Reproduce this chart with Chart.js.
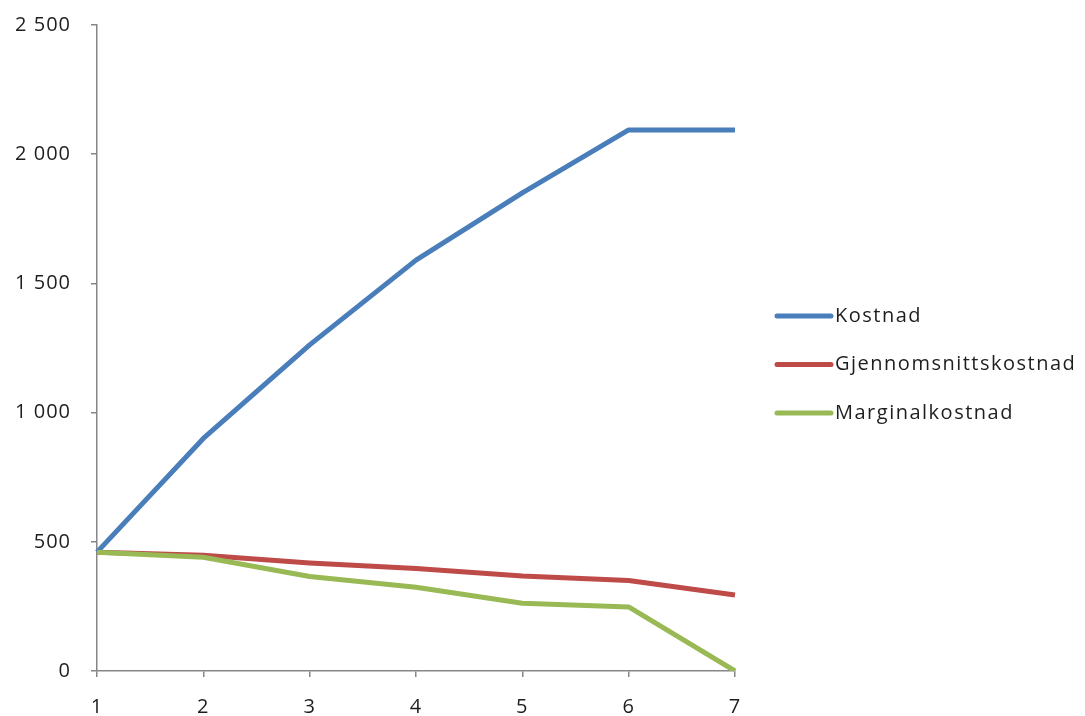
<!DOCTYPE html>
<html>
<head>
<meta charset="utf-8">
<script src="https://cdn.jsdelivr.net/npm/chart.js@4.4.1/dist/chart.umd.min.js"></script>
<style>
  html, body { margin: 0; padding: 0; background: #fff; }
  #wrap { width: 1085px; height: 716px; }
</style>
</head>
<body>
<div id="wrap"><canvas id="costChart" width="1085" height="716"></canvas></div>
<script>
const quantities = ['1', '2', '3', '4', '5', '6', '7'];
const kostnad = [460, 900, 1262, 1590, 1850, 2094, 2094];
const gjennomsnittskostnad = [460, 448, 418, 397, 368, 350, 294];
const marginalkostnad = [460, 440, 366, 324, 262, 248, 0];
const yTicks = [0, 500, 1000, 1500, 2000, 2500];

const axisGrey = '#868686';
const fontFamily = "'Open Sans', 'DejaVu Sans', sans-serif";

function spaced(v) {
    return String(v).replace(/\B(?=(\d{3})+$)/g, ' ');
}

// a bit of letter spacing so the labels look like the Excel original
const spacing = {
    id: 'spacing',
    beforeDraw(chart) { chart.ctx.letterSpacing = '1px'; }
};

// legend drawn to the right, like Excel does it
const sideLegend = {
    id: 'sideLegend',
    afterDraw(chart) {
        const ctx = chart.ctx;
        const x0 = 777, lineLen = 54, rowH = 48.5, yStart = 316;
        ctx.save();
        ctx.font = '20px ' + fontFamily;
        ctx.textBaseline = 'middle';
        ctx.textAlign = 'left';
        chart.data.datasets.forEach((ds, i) => {
            const y = yStart + i * rowH;
            ctx.strokeStyle = ds.borderColor;
            ctx.lineWidth = 5;
            ctx.lineCap = 'round';
            ctx.beginPath();
            ctx.moveTo(x0, y);
            ctx.lineTo(x0 + lineLen, y);
            ctx.stroke();
            ctx.fillStyle = '#1e1e1e';
            ctx.letterSpacing = '1.5px';
            ctx.fillText(ds.label, x0 + lineLen + 4, y);
        });
        ctx.restore();
    }
};

new Chart(document.getElementById('costChart'), {
    type: 'line',
    data: {
        labels: quantities,
        datasets: [
            { label: 'Kostnad', data: kostnad, borderColor: '#4A7EBB', order: 3 },
            { label: 'Gjennomsnittskostnad', data: gjennomsnittskostnad, borderColor: '#BE4B48', order: 2 },
            { label: 'Marginalkostnad', data: marginalkostnad, borderColor: '#98B954', order: 1 }
        ]
    },
    options: {
        responsive: false,
        animation: false,
        devicePixelRatio: 1,
        layout: { padding: { left: 0, right: 350, top: 25, bottom: 0 } },
        elements: {
            line: { borderWidth: 5, tension: 0, borderJoinStyle: 'round', borderCapStyle: 'butt', fill: false },
            point: { radius: 0, hoverRadius: 0 }
        },
        plugins: {
            legend: { display: false },
            tooltip: { enabled: false }
        },
        scales: {
            x: {
                offset: false,
                grid: { display: true, drawOnChartArea: false, drawTicks: true, tickLength: 6, color: axisGrey, lineWidth: 1.5 },
                border: { display: true, color: axisGrey, width: 1.5 },
                ticks: { color: '#1e1e1e', font: { family: fontFamily, size: 20 }, padding: 18, maxRotation: 0 },
                afterFit: s => { s.height = 45; s.paddingLeft = 0; s.paddingRight = 0; }
            },
            y: {
                min: 0,
                max: 2500,
                afterBuildTicks: s => { s.ticks = yTicks.map(v => ({ value: v })); },
                grid: { display: true, drawOnChartArea: false, drawTicks: true, tickLength: 6, color: axisGrey, lineWidth: 1.5 },
                border: { display: true, color: axisGrey, width: 1.5 },
                ticks: { color: '#1e1e1e', font: { family: fontFamily, size: 20 }, padding: 20, callback: v => spaced(v) },
                afterFit: s => { s.width = 97; s.paddingTop = 0; s.paddingBottom = 0; }
            }
        }
    },
    plugins: [spacing, sideLegend]
});
</script>
</body>
</html>
